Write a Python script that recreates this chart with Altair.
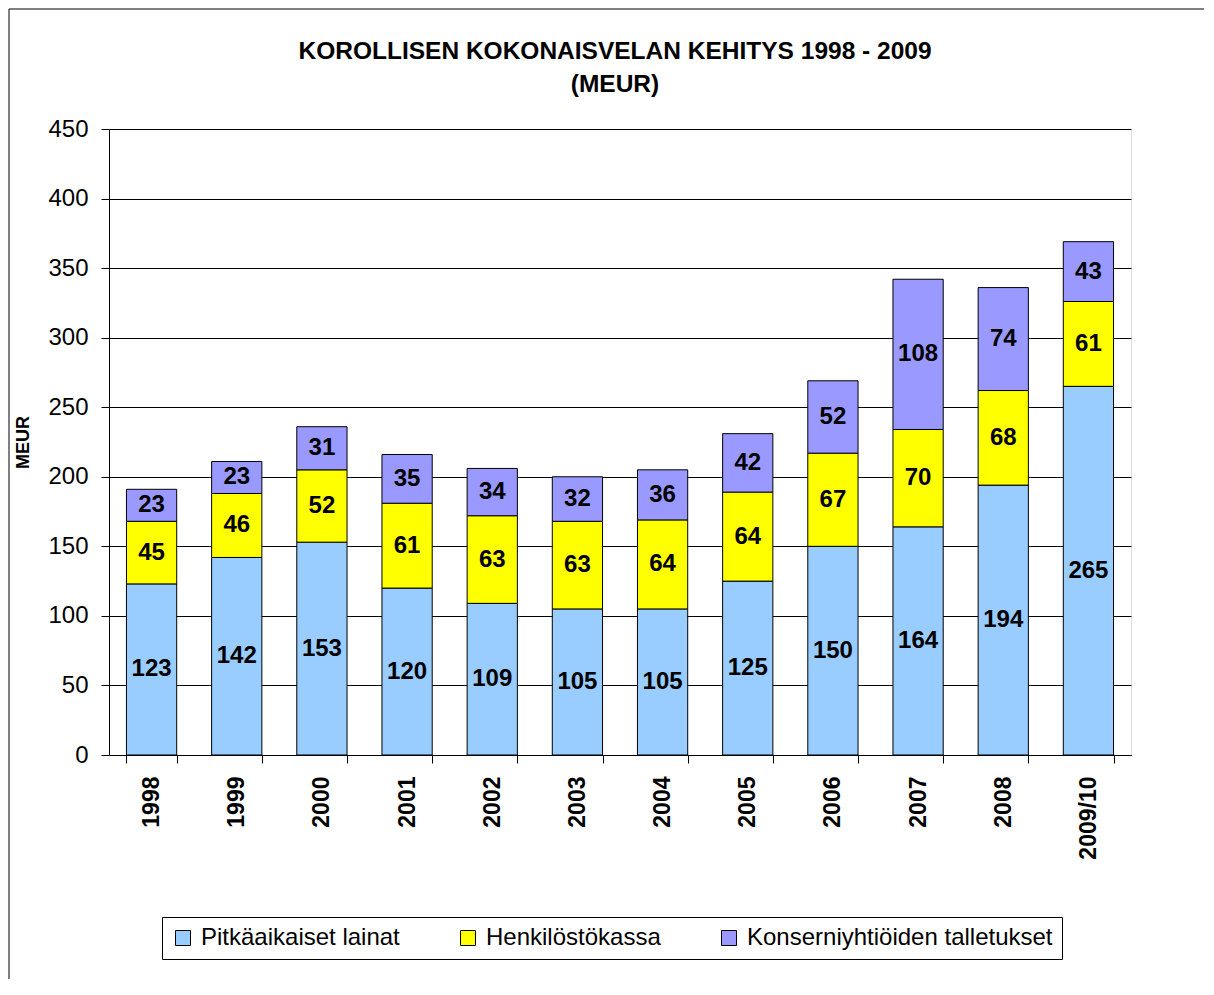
import altair as alt
import pandas as pd

years = ["1998", "1999", "2000", "2001", "2002", "2003", "2004", "2005",
         "2006", "2007", "2008", "2009/10"]
series = ["Pitkäaikaiset lainat", "Henkilöstökassa", "Konserniyhtiöiden talletukset"]
lainat = [123, 142, 153, 120, 109, 105, 105, 125, 150, 164, 194, 265]
kassa = [45, 46, 52, 61, 63, 63, 64, 64, 67, 70, 68, 61]
talletukset = [23, 23, 31, 35, 34, 32, 36, 42, 52, 108, 74, 43]
colors = ["#99CCFF", "#FFFF00", "#9999FF"]
y_ticks = [0, 50, 100, 150, 200, 250, 300, 350, 400, 450]
title_lines = ["KOROLLISEN KOKONAISVELAN KEHITYS 1998 - 2009", "(MEUR)"]

rows = []
for i, vals in enumerate([lainat, kassa, talletukset]):
    for yr, v in zip(years, vals):
        rows.append({"year": yr, "series": series[i], "order": i, "value": v})
df = pd.DataFrame(rows)

FONT = "Liberation Sans"

base = alt.Chart(df).transform_stack(
    stack="value", groupby=["year"], as_=["v0", "v1"],
    sort=[alt.SortField("order", order="ascending")]
).transform_calculate(mid="(datum.v0 + datum.v1) / 2")

x_enc = alt.X(
    "year:N", sort=years,
    scale=alt.Scale(paddingInner=0.41, paddingOuter=0.205),
    axis=alt.Axis(title=None, labelAngle=270, labelFontSize=23, labelFontWeight="bold",
                  labelColor="black", labelPadding=13, tickBand="extent", tickSize=8,
                  tickColor="black", domainColor="black", grid=False, labelFont=FONT),
)

y_scale = alt.Scale(domain=[0, 450], nice=False)

bars = base.mark_bar(stroke="black", strokeWidth=1).encode(
    x=x_enc,
    y=alt.Y("v0:Q", scale=y_scale,
            axis=alt.Axis(values=y_ticks, title="MEUR", titleFontSize=18, titleFontWeight="bold",
                          titleColor="black", titlePadding=15, titleFont=FONT,
                          labelFontSize=24, labelColor="black", labelPadding=13, labelFont=FONT,
                          tickSize=8, tickColor="black", domainColor="black",
                          grid=True, gridColor="black", gridWidth=1)),
    y2="v1:Q",
    color=alt.Color("series:N", scale=alt.Scale(domain=series, range=colors),
                    legend=alt.Legend(title=None, orient="none", legendX=53, legendY=788,
                                      direction="horizontal", symbolType="square",
                                      symbolSize=225, symbolStrokeColor="black",
                                      symbolStrokeWidth=1, labelFontSize=24, labelColor="black",
                                      labelFont=FONT, labelOffset=6, columnPadding=56,
                                      labelLimit=500, padding=9, strokeColor="black",
                                      fillColor="white")),
    order=alt.Order("order:Q", sort="ascending"),
)

labels = base.mark_text(fontSize=24, fontWeight="bold", color="black", font=FONT,
                        baseline="middle", align="center").encode(
    x=alt.X("year:N", sort=years),
    y=alt.Y("mid:Q", scale=y_scale),
    text="value:Q",
)

frame_df = pd.DataFrame({"a": [0]})
frame_top = alt.Chart(frame_df).mark_rule(color="black", strokeWidth=1).encode(
    x=alt.value(-100), x2=alt.value(1095), y=alt.value(-120))
frame_left = alt.Chart(frame_df).mark_rule(color="black", strokeWidth=1).encode(
    x=alt.value(-100), y=alt.value(-120), y2=alt.value(850))

chart = alt.layer(bars, labels, frame_top, frame_left).properties(
    width=1022, height=626, padding=0,
    title=alt.TitleParams(text=title_lines, fontSize=24.5, fontWeight="bold", font=FONT,
                          color="black", anchor="middle", frame="group", offset=-89,
                          lineHeight=33, dx=-5),
).configure_view(stroke="#808080", strokeWidth=1).configure(font=FONT)

chart.save("out.html", embed_options={"renderer": "svg", "actions": False})
